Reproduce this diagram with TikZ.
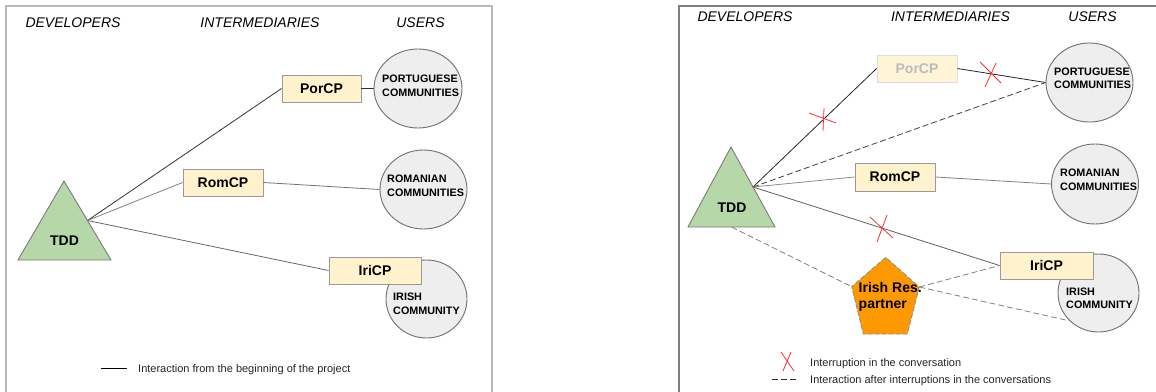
\documentclass[tikz,border=0pt]{standalone}
\usepackage{fontspec}
\setmainfont{Liberation Sans}
\usetikzlibrary{shapes.geometric,calc}
\definecolor{boxfill}{HTML}{FFF2CC}
\definecolor{boxline}{HTML}{9A9A9A}
\definecolor{fadefill}{HTML}{FFF4D6}
\definecolor{fadeline}{HTML}{DDDDDD}
\definecolor{fadetext}{HTML}{BBBBBB}
\definecolor{circfill}{HTML}{EEEEEE}
\definecolor{circline}{HTML}{707070}
\definecolor{trifill}{HTML}{B6D7A8}
\definecolor{triline}{HTML}{7A7A7A}
\definecolor{pentfill}{HTML}{FF9900}
\definecolor{xred}{HTML}{FF3030}
\begin{document}
\begin{tikzpicture}[x=1pt,y=-1pt,
  cpbox/.style={draw=boxline, fill=boxfill, line width=0.9pt, minimum height=27pt, inner sep=0pt, font=\fontsize{14}{16}\selectfont\bfseries},
  comm/.style={ellipse, draw=circline, fill=circfill, line width=0.9pt, inner sep=0pt},
  commtext/.style={anchor=west, align=left, inner sep=0pt, font=\fontsize{10.8}{13.5}\selectfont\bfseries},
  head/.style={font=\fontsize{14}{16}\selectfont\itshape, inner sep=0pt},
  tddtext/.style={font=\fontsize{14}{16}\selectfont\bfseries, inner sep=0pt},
  legtext/.style={anchor=base west, inner sep=0pt, font=\fontsize{11}{13}\selectfont, text=black!85},
  link/.style={line width=0.8pt},
  dlink/.style={line width=0.8pt, dash pattern=on 6pt off 3pt},
  redx/.style={draw=xred, line width=0.8pt},
  tri/.style={draw=triline, fill=trifill, line width=0.9pt, line join=miter},
  frame/.style={line width=1.5pt},
]
\useasboundingbox (0,0) rectangle (1156,391);
\clip (0,0) rectangle (1156,391);

% ---------- frames ----------
\draw[frame, draw=black!28] (6,400) -- (6,6) -- (492,6) -- (492,400);
\draw[frame, draw=black!50] (679,400) -- (679,6) -- (1165,6);

% ================= LEFT PANEL =================
\node[head] (lh1) at (73,23) {DEVELOPERS};
\node[head] (lh2) at (260,23) {INTERMEDIARIES};
\node[head] (lh3) at (420.5,23) {USERS};

\coordinate (lA) at (64,181);
\coordinate (lB) at (18,260);
\coordinate (lC) at (111,260);
\draw[tri] (lA) -- (lB) -- (lC) -- cycle;
\node[tddtext] (ltdd) at (64.5,240.5) {TDD};
\coordinate (lout) at ($(lA)!0.5!(lC)$);

\node[comm, minimum width=88pt, minimum height=79pt] (lport) at (418,88.5) {};
\node[commtext] (lportt) at (382,86) {PORTUGUESE\\COMMUNITIES};
\node[comm, minimum width=87pt, minimum height=79pt] (lrom) at (423.5,189.5) {};
\node[commtext] (lromt) at (387,186) {ROMANIAN\\COMMUNITIES};
\node[comm, minimum width=81pt, minimum height=78pt] (liri) at (426.5,299) {};
\node[commtext] (lirit) at (393,304) {IRISH\\COMMUNITY};

\node[cpbox, minimum width=79pt] (lporcp) at (321.5,88.5) {PorCP};
\node[cpbox, minimum width=80pt] (lromcp) at (223,182.5) {RomCP};
\node[cpbox, minimum width=92pt] (liricp) at (375,270.5) {IriCP};

\draw[link, draw=black!80] (lout) -- (lporcp.west);
\draw[link, draw=black!50] (lout) -- (lromcp.west);
\draw[link, draw=black!60] (lout) -- (liricp.west);
\draw[link, draw=black!80] (lporcp.east) -- (lport.west);
\draw[link, draw=black!55] (lromcp.east) -- (lrom.west);

\coordinate (lleg1) at (101,368);
\coordinate (lleg2) at (127,368);
\draw[link, draw=black] (lleg1) -- (lleg2);
\node[legtext] (llegt) at (138,372) {Interaction from the beginning of the project};

% ================= RIGHT PANEL =================
\node[head] (rh1) at (745,17) {DEVELOPERS};
\node[head] (rh2) at (950.5,17) {INTERMEDIARIES};
\node[head] (rh3) at (1092.5,17) {USERS};

\coordinate (rA) at (731,147);
\coordinate (rB) at (688,227);
\coordinate (rC) at (775,227);
\draw[tri] (rA) -- (rB) -- (rC) -- cycle;
\node[tddtext] (rtdd) at (732,207.5) {TDD};
\coordinate (rout) at ($(rA)!0.5!(rC)$);
\coordinate (rbot) at ($(rB)!0.5!(rC)$);

\node[comm, minimum width=87pt, minimum height=79pt] (rport) at (1089.5,82.5) {};
\node[commtext] (rportt) at (1054,78.5) {PORTUGUESE\\COMMUNITIES};
\node[comm, minimum width=87pt, minimum height=80pt] (rrom) at (1095,184) {};
\node[commtext] (rromt) at (1060,180) {ROMANIAN\\COMMUNITIES};
\node[comm, minimum width=81pt, minimum height=78pt] (riri) at (1098.5,293) {};
\node[commtext] (ririt) at (1066,298.5) {IRISH\\COMMUNITY};

\node[cpbox, draw=fadeline, fill=fadefill, text=fadetext, minimum width=80pt] (rporcp) at (917,68.5) {PorCP};
\node[cpbox, minimum width=80pt, minimum height=28pt] (rromcp) at (895,177) {RomCP};
\node[cpbox, minimum width=93pt] (rricp) at (1046.5,265.5) {IriCP};

% pentagon
\coordinate (pA) at (885.7,257.3);
\coordinate (pB) at (851.7,286.7);
\coordinate (pC) at (863.3,334);
\coordinate (pD) at (907.3,334);
\coordinate (pE) at (919.3,287);
\draw[fill=pentfill, draw=black!45, line width=0.8pt, dash pattern=on 5pt off 2pt]
  (pA) -- (pB) -- (pC) -- (pD) -- (pE) -- cycle;
\node[anchor=west, align=left, inner sep=0pt, font=\fontsize{14}{16}\selectfont\bfseries] (rpart) at (858.5,296.5) {Irish Res.\\partner};

% connectors
\draw[link, draw=black!85] (rout) -- (rporcp.west);
\draw[link, draw=black!85] (rporcp.east) -- (rport.west);
\draw[dlink, draw=black!75] (rout) -- (rport.west);
\draw[link, draw=black!45] (rout) -- (rromcp.west);
\draw[link, draw=black!50] (rromcp.east) -- (rrom.west);
\draw[link, draw=black!62] (rout) -- (rricp.west);
\draw[dlink, draw=black!50] (rbot) -- (pB);
\draw[dlink, draw=black!50] (pE) -- (rricp.west);
\draw[dlink, draw=black!50] (pE) -- (riri.south west);

% red crosses
\coordinate (x1) at (824,119);
\draw[redx] ($(x1)+(-15,-6)$) -- ($(x1)+(12,4)$);
\draw[redx] ($(x1)+(0,-11)$) -- ($(x1)+(-1,12)$);
\coordinate (x2) at (991,74);
\draw[redx] ($(x2)+(-11,-12)$) -- ($(x2)+(10,9)$);
\draw[redx] ($(x2)+(5,-11)$) -- ($(x2)+(-6,13)$);
\coordinate (x3) at (883,227);
\draw[redx] ($(x3)+(-13,-10)$) -- ($(x3)+(10,11)$);
\draw[redx] ($(x3)+(4,-12)$) -- ($(x3)+(-6,15)$);

% legend
\coordinate (xl) at (787,362);
\draw[redx] ($(xl)+(-6,-10)$) -- ($(xl)+(7,9)$);
\draw[redx] ($(xl)+(4,-10)$) -- ($(xl)+(-4,9)$);
\node[legtext] (rleg1) at (810,366) {Interruption in the conversation};
\coordinate (rleg2a) at (772,379);
\coordinate (rleg2b) at (798,379);
\draw[dlink, draw=black!80] (rleg2a) -- (rleg2b);
\node[legtext] (rleg2) at (810,383.5) {Interaction after interruptions in the conversations};
\end{tikzpicture}
\end{document}
